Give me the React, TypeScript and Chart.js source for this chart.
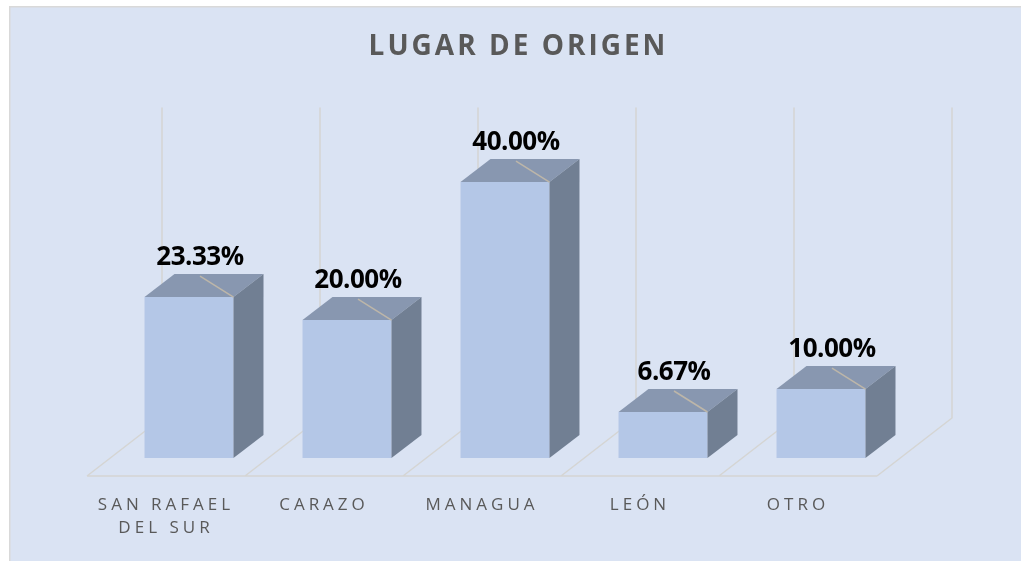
import React, { useEffect, useRef } from 'react';
import { Chart, registerables } from 'chart.js';

Chart.register(...registerables);

const categories: (string | string[])[] = [['SAN RAFAEL', 'DEL SUR'], 'CARAZO', 'MANAGUA', 'LEÓN', 'OTRO'];
const values = [23.33, 20.0, 40.0, 6.67, 10.0];
const titleText = 'LUGAR DE ORIGEN';
const yMax = 45;

// 3D styling constants
const FLOOR_DX = 75;
const FLOOR_DY = 58;
const BAR_DX = 23;
const BAR_DY = 18;
const DEPTH_DX = 30;
const DEPTH_DY = 23;
const LABEL_DX = 11;

const threeD = {
  id: 'threeD',
  beforeLayout(chart: any) {
    chart.ctx.letterSpacing = '4px';
  },
  afterLayout(chart: any) {
    const tb = chart.titleBlock;
    if (tb && !tb.__wrapped) {
      const orig = tb.draw.bind(tb);
      tb.draw = (area: any) => {
        const prev = chart.ctx.letterSpacing;
        chart.ctx.letterSpacing = '3px';
        orig(area);
        chart.ctx.letterSpacing = prev;
      };
      tb.__wrapped = true;
    }
  },
  beforeDraw(chart: any) {
    const ctx = chart.ctx;
    ctx.letterSpacing = '4px';
    ctx.save();
    ctx.fillStyle = '#ffffff';
    ctx.fillRect(0, 0, chart.width, chart.height);
    ctx.fillStyle = '#DAE3F3';
    ctx.fillRect(9, 6, chart.width, chart.height);
    ctx.strokeStyle = '#D9D9D9';
    ctx.lineWidth = 1.5;
    ctx.beginPath();
    ctx.moveTo(9.75, chart.height);
    ctx.lineTo(9.75, 6.75);
    ctx.lineTo(chart.width, 6.75);
    ctx.stroke();
    ctx.restore();
  },
  beforeDatasetsDraw(chart: any) {
    const ctx = chart.ctx;
    const xs = chart.scales.x;
    const { top, bottom } = chart.chartArea;
    const n = chart.data.labels.length;
    const bounds: number[] = [];
    for (let i = 0; i <= n; i++) bounds.push(xs.getPixelForValue(i - 0.5));
    ctx.save();
    ctx.strokeStyle = '#D5D5D3';
    ctx.lineWidth = 1.5;
    ctx.beginPath();
    ctx.moveTo(bounds[0], bottom);
    ctx.lineTo(bounds[n], bottom);
    bounds.forEach((b) => {
      ctx.moveTo(b, bottom);
      ctx.lineTo(b + FLOOR_DX, bottom - FLOOR_DY);
      ctx.lineTo(b + FLOOR_DX, top - FLOOR_DY);
    });
    ctx.stroke();
    ctx.restore();
  },
  beforeDatasetDraw(chart: any) {
    chart.ctx.save();
    chart.ctx.translate(BAR_DX, -BAR_DY);
  },
  afterDatasetDraw(chart: any, args: any) {
    const ctx = chart.ctx;
    args.meta.data.forEach((bar: any) => {
      const { x, y, base, width } = bar.getProps(['x', 'y', 'base', 'width'], true);
      const x0 = x - width / 2;
      const x1 = x + width / 2;
      ctx.fillStyle = '#8897B0';
      ctx.beginPath();
      ctx.moveTo(x0, y);
      ctx.lineTo(x0 + DEPTH_DX, y - DEPTH_DY);
      ctx.lineTo(x1 + DEPTH_DX, y - DEPTH_DY);
      ctx.lineTo(x1, y);
      ctx.closePath();
      ctx.fill();
      ctx.fillStyle = '#717F93';
      ctx.beginPath();
      ctx.moveTo(x1, y);
      ctx.lineTo(x1 + DEPTH_DX, y - DEPTH_DY);
      ctx.lineTo(x1 + DEPTH_DX, base - DEPTH_DY);
      ctx.lineTo(x1, base);
      ctx.closePath();
      ctx.fill();
    });
    ctx.restore();
  },
  afterDatasetsDraw(chart: any) {
    const ctx = chart.ctx;
    const meta = chart.getDatasetMeta(0);
    const data = chart.data.datasets[0].data as number[];
    ctx.save();
    ctx.letterSpacing = '-0.5px';
    meta.data.forEach((bar: any, i: number) => {
      const { x, y, width } = bar.getProps(['x', 'y', 'width'], true);
      const fx1 = x + width / 2 + BAR_DX;
      const ftop = y - BAR_DY;
      const backTop = ftop - DEPTH_DY;
      const lx = x + BAR_DX + LABEL_DX;
      ctx.strokeStyle = '#BDB6A9';
      ctx.lineWidth = 1.5;
      ctx.beginPath();
      ctx.moveTo(lx, backTop + 2);
      ctx.lineTo(fx1, ftop);
      ctx.stroke();
      ctx.fillStyle = '#000000';
      ctx.font = 'bold 26px "Open Sans"';
      ctx.textAlign = 'center';
      ctx.textBaseline = 'alphabetic';
      ctx.fillText(data[i].toFixed(2) + '%', lx, backTop - 9);
    });
    ctx.restore();
  },
};

export default function App() {
  const ref = useRef<HTMLCanvasElement>(null);
  useEffect(() => {
    const chart = new Chart(ref.current as HTMLCanvasElement, {
      type: 'bar',
      data: {
        labels: categories as any,
        datasets: [
          {
            data: values,
            backgroundColor: '#B4C7E7',
            borderWidth: 0,
            categoryPercentage: 1,
            barPercentage: 0.563,
          },
        ],
      },
      options: {
        animation: false,
        responsive: false,
        devicePixelRatio: 1,
        layout: { padding: { left: 16, right: 0, top: 0, bottom: 0 } },
        plugins: {
          legend: { display: false },
          tooltip: { enabled: false },
          title: {
            display: true,
            text: titleText,
            color: '#595959',
            font: { family: 'Open Sans', size: 28, weight: 'bold', lineHeight: 1.2 },
            padding: { top: 30, bottom: 102 },
          },
        },
        scales: {
          x: {
            grid: { display: false },
            border: { display: false },
            ticks: {
              color: '#595959',
              font: { family: 'Open Sans', size: 17, lineHeight: 1.35 },
              padding: 10,
              maxRotation: 0,
              autoSkip: false,
            },
            afterFit: (s: any) => {
              s.height = 85;
            },
          },
          y: {
            min: 0,
            max: yMax,
            grid: { display: false },
            border: { display: false },
            ticks: { display: false },
            afterFit: (s: any) => {
              s.width = 71;
            },
          },
          yR: {
            type: 'linear',
            position: 'right',
            grid: { display: false },
            border: { display: false },
            ticks: { display: false },
            afterFit: (s: any) => {
              s.width = 144;
            },
          },
        },
      } as any,
      plugins: [threeD as any],
    });
    return () => chart.destroy();
  }, []);
  return (
    <div style={{ position: 'fixed', left: 0, top: 0, width: 1021, height: 561 }}>
      <canvas ref={ref} width={1021} height={561} style={{ display: 'block', width: 1021, height: 561 }} />
    </div>
  );
}
